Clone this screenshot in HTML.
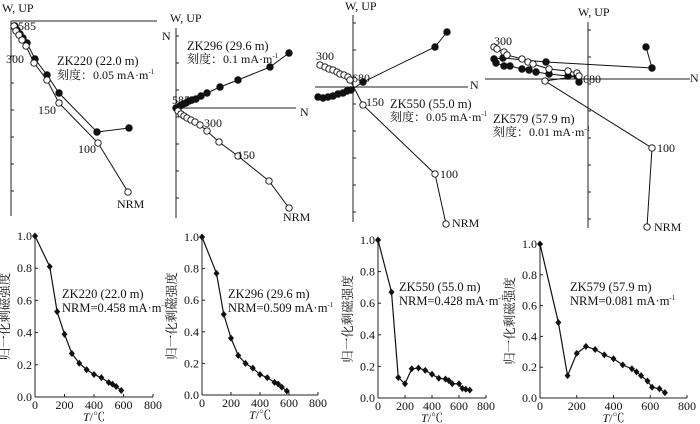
<!DOCTYPE html>
<html><head><meta charset="utf-8"><style>
html,body{margin:0;padding:0;background:#fff;}
svg{display:block;font-family:"Liberation Serif","Noto Serif CJK SC",serif;}
text{fill:#111;}
</style></head><body>
<svg id="fig" width="700" height="424" viewBox="0 0 700 424" xmlns="http://www.w3.org/2000/svg"></svg>
<script>
// ---- Zijderveld data (offsets from origin, in plot units) ----
const zA_filled=[[4,5],[6,9],[9,13],[12,17],[16,22],[24,38],[36,54],[48,72],[86,111],[118,107]];
const zA_open=[[3,5],[5,10],[8,14],[11,19],[15,25],[23,42],[36,59],[48,82],[87,122],[117,171]];
const zB_filled=[[0,0],[4,-2],[7,-4],[10,-5],[13,-7],[16,-8],[20,-9],[25,-12],[31,-15],[44,-21],[62,-28],[94,-41],[113,-55]];
const zB_open=[[2,3],[5,6],[8,8],[11,10],[15,12],[19,14],[24,17],[31,23],[43,34],[62,48],[93,73],[113,100]];
const zC_filled=[[-35,10],[-30,11],[-25,10],[-20,9],[-15,7],[-10,6],[-6,4],[-2,3],[10,-5],[82,-40],[94,-55]];
const zC_open=[[-33,-22],[-28,-20],[-24,-18],[-20,-17],[-16,-15],[-13,-13],[-9,-12],[-5,-10],[-3,-7],[10,18],[82,87],[93,137]];
const zD_filled=[[58,-32],[64,-11],[-42,-17],[-85,-21],[-94,-20],[-92,-16],[-84,-13],[-78,-13],[-66,-10],[-59,-9],[-52,-7],[-39,-5],[-20,-3],[-11,-3],[-9,3]];
const zD_open=[[-94,-32],[-91,-30],[-84,-27],[-81,-24],[-66,-20],[-60,-17],[-55,-15],[-39,-10],[-20,-8],[-11,-6],[-9,-3],[-43,2],[64,69],[59,148]];
// ---- thermal demag data ----
const tA=[0,100,150,200,250,300,350,400,450,500,525,550,585];
const mA=[1,.81,.53,.39,.27,.21,.17,.14,.12,.09,.08,.065,.04];
const tB=[0,100,150,200,250,300,350,400,450,500,525,550,585];
const mB=[1,.77,.51,.36,.25,.20,.17,.13,.11,.08,.07,.05,.025];
const tC=[0,100,150,200,250,300,350,400,450,500,525,550,600,625,650,680];
const mC=[1,.67,.13,.09,.185,.19,.175,.15,.125,.12,.11,.09,.09,.06,.055,.05];
const tD=[0,100,150,200,250,300,350,400,450,500,525,550,585,610,650,680];
const mD=[1,.49,.145,.29,.335,.315,.28,.255,.215,.19,.17,.145,.11,.07,.06,.035];
const xTicks=[0,200,400,600,800];
const yTicks=[0,0.2,0.4,0.6,0.8,1.0];
const yTickLabels=["0.0","0.2","0.4","0.6","0.8","1.0"];

const svg=document.getElementById('fig');
const NS="http://www.w3.org/2000/svg";
function el(tag,attrs,parent){const e=document.createElementNS(NS,tag);for(const k in attrs)e.setAttribute(k,attrs[k]);(parent||svg).appendChild(e);return e;}
function txt(x,y,s,size,parent,anchor){const t=el('text',{x:x,y:y,'font-size':size||12,'text-anchor':anchor||'start'},parent);t.textContent=s;return t;}
function unitTxt(x,y,s,size,parent){
  const t=txt(x,y,s+'mA·m',size,parent);
  const sup=document.createElementNS(NS,'tspan');
  sup.setAttribute('font-size',7);sup.setAttribute('dy',-5);
  sup.textContent='-1';t.appendChild(sup);return t;
}

function zij(ox,oy,hx1,hx2,vy1,vy2,filled,open,name){
  const g=el('g',{});
  
  
  const px=p=>ox+p[0], py=p=>oy+p[1];
  el('line',{x1:hx1,y1:oy,x2:hx2,y2:oy,stroke:'#222','stroke-width':1},g);
  el('line',{x1:ox,y1:vy1,x2:ox,y2:vy2,stroke:'#222','stroke-width':1},g);
  for(let y=vy1+8;y<vy2;y+=27){el('line',{x1:ox,y1:y,x2:ox+3,y2:y,stroke:'#222'},g);}
  for(const set of [filled,open]){
    const pts=set.map(p=>px(p)+','+py(p)).join(' ');
    el('polyline',{points:pts,fill:'none',stroke:'#111','stroke-width':1},g);
  }
  filled.forEach(p=>{const c=el('circle',{cx:px(p),cy:py(p),r:3.2,fill:'#111',stroke:'#111'},g);});
  open.forEach(p=>{const c=el('circle',{cx:px(p),cy:py(p),r:3.2,fill:'#fff',stroke:'#111','stroke-width':0.9},g);});
  return g;
}
let g;
g=zij(11,21,11,157,21,216,zA_filled,zA_open,'zijderveld-zk220');
txt(2,12,'W, UP',12,g);txt(18,30,'585',12,g);txt(6,63,'300',12,g);txt(38,114,'150',12,g);txt(78,153,'100',12,g);txt(117,208,'NRM',12,g);
txt(57,65,'ZK220 (22.0 m)',12.5,g);unitTxt(57,79,'刻度：0.05 ',12,g);
g=zij(176,108,176,296,28,218,zB_filled,zB_open,'zijderveld-zk296');
txt(170,22,'W, UP',12,g);txt(162,40,'N',12,g);txt(300,116,'N',12,g);txt(172,104,'585',12,g);txt(204,127,'300',12,g);txt(237,159,'150',12,g);txt(283,221,'NRM',12,g);
txt(187,50,'ZK296 (29.6 m)',12.5,g);unitTxt(187,63,'刻度：0.1 ',12,g);
g=zij(353,87,315,468,15,222,zC_filled,zC_open,'zijderveld-zk550');
txt(345,10,'W, UP',12,g);txt(470,89,'N',12,g);txt(316,60,'300',12,g);txt(352,82,'680',12,g);txt(366,106,'150',12,g);txt(440,178,'100',12,g);txt(452,227,'NRM',12,g);
txt(390,108,'ZK550 (55.0 m)',12.5,g);unitTxt(390,121,'刻度：0.05 ',12,g);
g=zij(588,79,485,690,22,228,zD_filled,zD_open,'zijderveld-zk579');
txt(578,16,'W, UP',12,g);txt(690,82,'N',12,g);txt(494,45,'300',12,g);txt(583,83,'680',12,g);txt(657,152,'100',12,g);txt(654,231,'NRM',12,g);
txt(493,123,'ZK579 (57.9 m)',12.5,g);unitTxt(493,136,'刻度：0.01 ',12,g);

function demag(x0,x800,y1,y0,T,M,l1,l2,lx,ly,name){
  const g=el('g',{});
  
  
  const sx=v=>x0+(x800-x0)*v/800, sy=v=>y0+(y1-y0)*v;
  el('line',{x1:x0,y1:y0,x2:x800,y2:y0,stroke:'#222'},g);
  el('line',{x1:x0,y1:y0,x2:x0,y2:y1-3,stroke:'#222'},g);
  xTicks.forEach(v=>{el('line',{x1:sx(v),y1:y0,x2:sx(v),y2:y0-3,stroke:'#222'},g);txt(sx(v),y0+12,String(v),12,g,'middle');});
  yTicks.forEach((v,i)=>{el('line',{x1:x0,y1:sy(v),x2:x0+3,y2:sy(v),stroke:'#222'},g);txt(x0-3,sy(v)+4,yTickLabels[i],12,g,'end');});
  const xl=txt((x0+x800)/2,y0+24,'',12,g,'middle');
  const ti=document.createElementNS(NS,'tspan');ti.setAttribute('font-style','italic');ti.textContent='T';xl.appendChild(ti);
  const t2=document.createElementNS(NS,'tspan');t2.textContent='/℃';xl.appendChild(t2);
  const yl=txt(0,0,'归一化剩磁强度',12.5,g,'middle');
  yl.setAttribute('transform','translate('+(x0-26)+','+((y0+y1)/2)+') rotate(-90)');
  yl.setAttribute('fill','#333');
  el('polyline',{points:T.map((t,i)=>sx(t)+','+sy(M[i])).join(' '),fill:'none',stroke:'#111','stroke-width':1.2},g);
  T.forEach((t,i)=>{const d=el('path',{d:`M${sx(t)},${sy(M[i])-3.5} l3,3.5 l-3,3.5 l-3,-3.5 z`,fill:'#111'},g);});
  txt(lx,ly,l1,12.5,g);unitTxt(lx,ly+14,l2,12.5,g);
}
demag(35,153,236,397,tA,mA,'ZK220 (22.0 m)','NRM=0.458 ',62,298,'demag-zk220');
demag(202,318,237,395,tB,mB,'ZK296 (29.6 m)','NRM=0.509 ',228,298,'demag-zk296');
demag(378,486,240,398,tC,mC,'ZK550 (55.0 m)','NRM=0.428 ',399,291,'demag-zk550');
demag(540,687,244,398,tD,mD,'ZK579 (57.9 m)','NRM=0.081 ',570,291,'demag-zk579');
</script>
</body></html>
